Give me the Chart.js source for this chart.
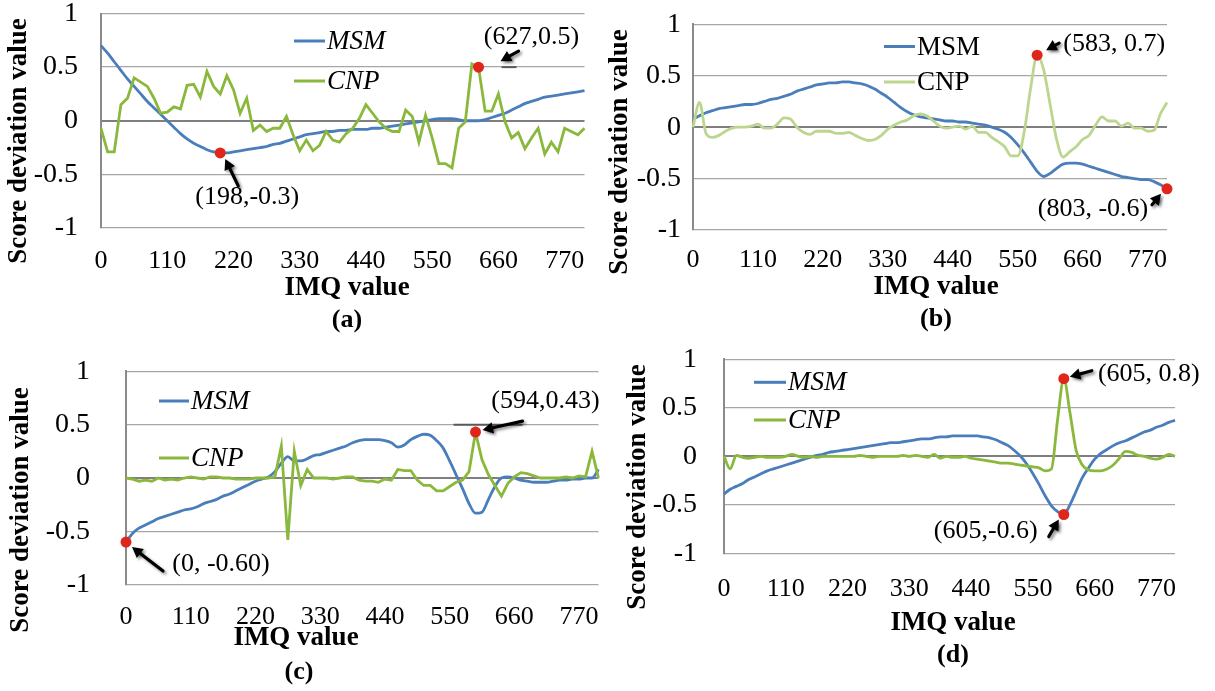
<!DOCTYPE html>
<html>
<head>
<meta charset="utf-8">
<title>Score deviation vs IMQ value</title>
<script src="https://cdn.jsdelivr.net/npm/chart.js@4.4.1/dist/chart.umd.min.js"></script>
<style>
  body { margin: 0; background: #fff; }
  #fig { position: relative; width: 1215px; height: 691px; overflow: hidden; background: #fff; }
  #fig canvas { position: absolute; }
</style>
</head>
<body>
<div id="fig"></div>
<script>
// IMQ categories (step 11)
const imq = [0, 11, 22, 33, 44, 55, 66, 77, 88, 99,
  110, 121, 132, 143, 154, 165, 176, 187, 198, 209,
  220, 231, 242, 253, 264, 275, 286, 297, 308, 319,
  330, 341, 352, 363, 374, 385, 396, 407, 418, 429,
  440, 451, 462, 473, 484, 495, 506, 517, 528, 539,
  550, 561, 572, 583, 594, 605, 616, 627, 638, 649,
  660, 671, 682, 693, 704, 715, 726, 737, 748, 759,
  770, 781, 792, 803];

// (a)
const msmA = [0.70, 0.63, 0.55, 0.47, 0.39, 0.32, 0.25, 0.18, 0.12, 0.06,
  0.00, -0.06, -0.12, -0.17, -0.21, -0.24, -0.27, -0.29, -0.30, -0.30,
  -0.29, -0.28, -0.27, -0.26, -0.25, -0.24, -0.22, -0.21, -0.19, -0.17,
  -0.15, -0.13, -0.12, -0.11, -0.10, -0.10, -0.09, -0.09, -0.08, -0.08,
  -0.08, -0.07, -0.07, -0.06, -0.05, -0.04, -0.03, -0.02, -0.01, 0.00,
  0.01, 0.02, 0.02, 0.02, 0.01, 0.00, 0.00, 0.00, 0.01, 0.03,
  0.05, 0.07, 0.10, 0.13, 0.16, 0.18, 0.20, 0.22, 0.23, 0.24,
  0.25, 0.26, 0.27, 0.28];
const cnpA = [-0.07, -0.29, -0.29, 0.15, 0.21, 0.40, 0.36, 0.32, 0.21, 0.07,
  0.08, 0.13, 0.11, 0.33, 0.34, 0.22, 0.46, 0.32, 0.25, 0.42,
  0.29, 0.07, 0.21, -0.09, -0.04, -0.10, -0.07, -0.07, 0.04, -0.13,
  -0.28, -0.18, -0.28, -0.23, -0.10, -0.18, -0.20, -0.12, -0.07, 0.02,
  0.15, 0.07, -0.01, -0.07, -0.10, -0.10, 0.10, 0.04, -0.20, 0.05,
  -0.16, -0.40, -0.40, -0.44, -0.07, -0.01, 0.53, 0.50, 0.09, 0.09,
  0.25, -0.01, -0.16, -0.11, -0.26, -0.16, -0.07, -0.31, -0.20, -0.29,
  -0.07, -0.10, -0.13, -0.07];

// (b)
const msmB = [0.08, 0.11, 0.14, 0.16, 0.18, 0.19, 0.20, 0.21, 0.22, 0.22,
  0.23, 0.25, 0.27, 0.28, 0.30, 0.32, 0.35, 0.37, 0.39, 0.41,
  0.42, 0.43, 0.43, 0.44, 0.44, 0.43, 0.42, 0.40, 0.37, 0.33,
  0.29, 0.24, 0.19, 0.15, 0.12, 0.10, 0.09, 0.08, 0.07, 0.06,
  0.06, 0.05, 0.05, 0.04, 0.03, 0.02, 0.00, -0.02, -0.05, -0.10,
  -0.17, -0.25, -0.34, -0.43, -0.48, -0.45, -0.40, -0.36, -0.35, -0.35,
  -0.36, -0.38, -0.40, -0.42, -0.44, -0.46, -0.48, -0.49, -0.50, -0.51,
  -0.51, -0.53, -0.56, -0.60];
const cnpB = [0.00, 0.24, -0.06, -0.10, -0.08, -0.04, -0.01, 0.00, 0.00, 0.01,
  0.03, -0.01, -0.01, 0.03, 0.09, 0.08, 0.00, -0.05, -0.07, -0.04,
  -0.04, -0.04, -0.06, -0.06, -0.05, -0.08, -0.11, -0.13, -0.12, -0.08,
  -0.02, 0.02, 0.05, 0.07, 0.11, 0.13, 0.11, 0.06, 0.01, -0.01,
  0.00, 0.01, -0.02, 0.01, -0.05, -0.05, -0.10, -0.14, -0.19, -0.28,
  -0.28, -0.05, 0.38, 0.70, 0.56, 0.22, -0.12, -0.29, -0.24, -0.19,
  -0.12, -0.08, 0.02, 0.10, 0.06, 0.06, 0.01, 0.04, -0.01, -0.01,
  -0.04, -0.03, 0.13, 0.24];

// (c)
const msmC = [-0.60, -0.52, -0.47, -0.44, -0.41, -0.38, -0.36, -0.34, -0.32, -0.30,
  -0.29, -0.27, -0.24, -0.22, -0.20, -0.17, -0.15, -0.12, -0.09, -0.06,
  -0.03, -0.01, 0.01, 0.06, 0.14, 0.20, 0.16, 0.16, 0.18, 0.21,
  0.22, 0.24, 0.26, 0.28, 0.30, 0.33, 0.35, 0.36, 0.36, 0.36,
  0.35, 0.33, 0.29, 0.31, 0.36, 0.39, 0.41, 0.40, 0.35, 0.28,
  0.16, 0.03, -0.10, -0.24, -0.33, -0.32, -0.20, -0.08, 0.00, 0.01,
  0.00, -0.02, -0.03, -0.04, -0.04, -0.04, -0.03, -0.02, -0.02, -0.01,
  -0.01, 0.00, 0.00, 0.08];
const cnpC = [0.00, -0.01, -0.03, -0.02, -0.03, 0.00, -0.02, -0.01, -0.02, 0.00,
  0.01, 0.00, -0.01, 0.01, 0.01, 0.00, 0.00, -0.01, -0.01, -0.01,
  0.00, 0.00, 0.00, 0.01, 0.30, -0.58, 0.25, -0.07, 0.08, 0.00,
  0.00, 0.00, -0.01, 0.00, 0.01, 0.01, -0.02, -0.03, -0.03, -0.04,
  -0.01, -0.02, 0.08, 0.07, 0.07, -0.02, -0.07, -0.07, -0.12, -0.12,
  -0.08, -0.04, -0.02, 0.06, 0.43, 0.17, 0.03, -0.07, -0.17, -0.05,
  0.01, 0.05, 0.04, 0.02, 0.00, 0.00, 0.00, 0.00, 0.01, 0.00,
  0.02, 0.01, 0.25, 0.00];

// (d)
const msmD = [-0.39, -0.34, -0.31, -0.28, -0.24, -0.21, -0.18, -0.15, -0.13, -0.11,
  -0.09, -0.07, -0.05, -0.03, -0.01, 0.01, 0.02, 0.04, 0.05, 0.06,
  0.07, 0.08, 0.09, 0.10, 0.11, 0.12, 0.13, 0.14, 0.14, 0.15,
  0.16, 0.17, 0.18, 0.18, 0.19, 0.20, 0.20, 0.21, 0.21, 0.21,
  0.21, 0.21, 0.20, 0.19, 0.17, 0.14, 0.11, 0.06, 0.00, -0.08,
  -0.18, -0.29, -0.41, -0.51, -0.57, -0.60, -0.50, -0.36, -0.22, -0.12,
  -0.03, 0.03, 0.07, 0.11, 0.14, 0.16, 0.19, 0.22, 0.25, 0.27,
  0.30, 0.32, 0.35, 0.37];
const cnpD = [0.00, -0.13, 0.01, -0.01, -0.02, -0.01, 0.00, -0.01, -0.01, -0.01,
  0.00, 0.02, 0.00, -0.01, 0.00, -0.01, 0.00, 0.00, 0.00, 0.00,
  0.00, 0.00, 0.01, 0.00, -0.01, 0.00, 0.00, 0.00, 0.00, 0.01,
  0.00, 0.01, 0.00, -0.01, 0.02, -0.02, 0.00, -0.01, -0.01, 0.00,
  -0.02, -0.03, -0.04, -0.05, -0.06, -0.07, -0.07, -0.08, -0.09, -0.10,
  -0.11, -0.12, -0.15, -0.13, 0.38, 0.80, 0.45, 0.06, -0.09, -0.14,
  -0.15, -0.15, -0.13, -0.09, -0.02, 0.05, 0.04, 0.01, 0.00, -0.02,
  -0.03, -0.01, 0.02, 0.00];

// highlighted points
const calloutsA = [{ x: 198, y: -0.3 }, { x: 627, y: 0.5 }];
const calloutsB = [{ x: 583, y: 0.7 }, { x: 803, y: -0.6 }];
const calloutsC = [{ x: 0, y: -0.60 }, { x: 594, y: 0.43 }];
const calloutsD = [{ x: 605, y: 0.8 }, { x: 605, y: -0.6 }];

const BLUE = '#4a7ebb', GREEN = '#8ab83c', PALE_GREEN = '#bcd68f', RED = '#e0261b';
const SERIF = '"Liberation Serif", "Times New Roman", serif';

const panels = [
  { id: 'chartA', left: 0, top: 0, w: 600, h: 340,
    area: { l: 101, r: 584.5, t: 13.5, b: 228 }, xPad: 12, yPad: 23,
    msm: msmA, cnp: cnpA, callouts: calloutsA, cnpColor: GREEN, cnpSmooth: false, italic: true,
    legend: { x0: 294, x1: 325, rows: [41, 81] },
    yTitle: [19, 141], xTitle: [347, 288], caption: [347, 320, '(a)'],
    notes: [
      { tip: [5, 6], tail: [18, 33], text: [27, 44], sep: ',', dp: 1 },
      { tip: [22, -6], tail: [40, -16], text: [53, -30], sep: ',', dp: 1, rule: [23, 38, 0.5] }
    ] },
  { id: 'chartB', left: 600, top: 0, w: 615, h: 340,
    area: { l: 93, r: 567, t: 24.3, b: 230 }, xPad: 9, yPad: 12,
    msm: msmB, cnp: cnpB, callouts: calloutsB, cnpColor: PALE_GREEN, cnpSmooth: true, italic: false,
    legend: { x0: 284, x1: 315, rows: [46.5, 82] },
    yTitle: [20, 152], xTitle: [336, 287], caption: [336, 319, '(b)'],
    notes: [
      { tip: [9, -5], tail: [22, -12], text: [77, -11], sep: ', ', dp: 1 },
      { tip: [-6, 5], tail: [-15, 16], text: [-74, 20], sep: ', ', dp: 1 }
    ] },
  { id: 'chartC', left: 0, top: 340, w: 604, h: 351,
    area: { l: 126, r: 601, t: 31.3, b: 244.7 }, xPad: 11, yPad: 36,
    msm: msmC, cnp: cnpC, callouts: calloutsC, cnpColor: GREEN, cnpSmooth: false, italic: true,
    legend: { x0: 159, x1: 189, rows: [61, 118] },
    yTitle: [21, 170], xTitle: [296, 298], caption: [299, 332, '(c)'],
    notes: [
      { tip: [6, 5], tail: [37, 29], text: [95, 22], sep: ', ', dp: 2 },
      { tip: [7, -2], tail: [47, -11], text: [70, -31], sep: ',', dp: 2, rule: [-22, 47, 0.5] }
    ] },
  { id: 'chartD', left: 604, top: 340, w: 611, h: 351,
    area: { l: 120, r: 571, t: 19.3, b: 213.3 }, xPad: 15, yPad: 27,
    msm: msmD, cnp: cnpD, callouts: calloutsD, cnpColor: GREEN, cnpSmooth: true, italic: true,
    legend: { x0: 150, x1: 182, rows: [42.3, 80] },
    yTitle: [34, 147], xTitle: [349, 283], caption: [349, 315, '(d)'],
    notes: [
      { tip: [6, -2], tail: [28, -8], text: [85, -5], sep: ', ', dp: 1 },
      { tip: [-5, 5], tail: [-15, 22], text: [-78, 17], sep: ',', dp: 1 }
    ] }
];
const byId = {};
panels.forEach(p => { byId[p.id] = p; });

function drawArrow(ctx, x0, y0, x1, y1) {
  const a = Math.atan2(y1 - y0, x1 - x0), h = 12;
  ctx.save();
  ctx.shadowColor = 'rgba(0,0,0,0.45)';
  ctx.shadowBlur = 3;
  ctx.shadowOffsetX = 2;
  ctx.shadowOffsetY = 2;
  ctx.strokeStyle = '#000';
  ctx.fillStyle = '#000';
  ctx.lineWidth = 3.2;
  ctx.lineCap = 'round';
  ctx.beginPath();
  ctx.moveTo(x0, y0);
  ctx.lineTo(x1 - 6 * Math.cos(a), y1 - 6 * Math.sin(a));
  ctx.stroke();
  ctx.beginPath();
  ctx.moveTo(x1, y1);
  ctx.lineTo(x1 - h * Math.cos(a - 0.5), y1 - h * Math.sin(a - 0.5));
  ctx.lineTo(x1 - h * Math.cos(a + 0.5), y1 - h * Math.sin(a + 0.5));
  ctx.closePath();
  ctx.fill();
  ctx.restore();
}

const figurePlugin = {
  id: 'figure',
  afterDatasetsDraw(chart) {
    const p = byId[chart.canvas.id];
    const ctx = chart.ctx, xs = chart.scales.x, ys = chart.scales.y;
    p.callouts.forEach((c, i) => {
      const n = p.notes[i];
      const px = xs.getPixelForValue(imq.indexOf(c.x));
      const py = ys.getPixelForValue(c.y);
      if (n.rule) {
        // darker stub on the gridline next to the label
        const gy = ys.getPixelForValue(n.rule[2]);
        ctx.save();
        ctx.strokeStyle = '#5a5a5a';
        ctx.lineWidth = 2;
        ctx.beginPath();
        ctx.moveTo(px + n.rule[0], gy);
        ctx.lineTo(px + n.rule[1], gy);
        ctx.stroke();
        ctx.restore();
      }
      drawArrow(ctx, px + n.tail[0], py + n.tail[1], px + n.tip[0], py + n.tip[1]);
      ctx.save();
      ctx.font = '26px ' + SERIF;
      ctx.fillStyle = '#000';
      ctx.textAlign = 'center';
      ctx.textBaseline = 'middle';
      ctx.fillText('(' + c.x + n.sep + c.y.toFixed(n.dp) + ')', px + n.text[0], py + n.text[1]);
      ctx.restore();
    });
  },
  afterDraw(chart) {
    const p = byId[chart.canvas.id];
    const ctx = chart.ctx;
    ctx.save();
    // legend: MSM then CNP
    const rows = [['MSM', BLUE], ['CNP', p.cnpColor]];
    rows.forEach(([name, color], i) => {
      const y = p.legend.rows[i];
      ctx.strokeStyle = color;
      ctx.lineWidth = 3;
      ctx.beginPath();
      ctx.moveTo(p.legend.x0, y);
      ctx.lineTo(p.legend.x1, y);
      ctx.stroke();
      ctx.font = (p.italic ? 'italic ' : '') + '27px ' + SERIF;
      ctx.fillStyle = '#000';
      ctx.textAlign = 'left';
      ctx.textBaseline = 'middle';
      ctx.fillText(name, p.legend.x1 + 2, y + 1);
    });
    // axis titles and panel caption
    ctx.fillStyle = '#000';
    ctx.textAlign = 'center';
    ctx.textBaseline = 'middle';
    ctx.font = 'bold 27px ' + SERIF;
    ctx.fillText('IMQ value', p.xTitle[0], p.xTitle[1]);
    ctx.font = 'bold 26px ' + SERIF;
    ctx.fillText(p.caption[2], p.caption[0], p.caption[1]);
    ctx.translate(p.yTitle[0], p.yTitle[1]);
    ctx.rotate(-Math.PI / 2);
    ctx.font = 'bold 27px ' + SERIF;
    ctx.fillText('Score deviation value', 0, 0);
    ctx.restore();
  }
};

const fig = document.getElementById('fig');
panels.forEach(p => {
  const cv = document.createElement('canvas');
  cv.id = p.id;
  cv.width = p.w;
  cv.height = p.h;
  cv.style.left = p.left + 'px';
  cv.style.top = p.top + 'px';
  cv.style.width = p.w + 'px';
  cv.style.height = p.h + 'px';
  fig.appendChild(cv);

  new Chart(cv, {
    type: 'line',
    data: {
      labels: imq,
      datasets: [
        { label: 'points', data: p.callouts.map(c => ({ x: c.x, y: c.y })), showLine: false,
          pointRadius: 5.5, pointBackgroundColor: RED, pointBorderWidth: 0, clip: false },
        { label: 'CNP', data: p.cnp, borderColor: p.cnpColor, borderWidth: 2.8, pointRadius: 0,
          tension: 0, cubicInterpolationMode: p.cnpSmooth ? 'monotone' : 'default' },
        { label: 'MSM', data: p.msm, borderColor: BLUE, borderWidth: 2.8, pointRadius: 0,
          cubicInterpolationMode: 'monotone' }
      ]
    },
    options: {
      responsive: false,
      animation: false,
      events: [],
      layout: { padding: { left: 0, top: p.area.t, right: p.w - p.area.r, bottom: 0 } },
      scales: {
        x: {
          type: 'category',
          offset: false,
          grid: { display: false },
          border: { display: false },
          // fixed axis height; tick padding must not push the plot edges in
          afterFit: s => { s.height = p.h - p.area.b; s.paddingLeft = 0; s.paddingRight = 0; },
          ticks: {
            autoSkip: false, maxRotation: 0, minRotation: 0, padding: p.xPad,
            color: '#000', font: { family: SERIF, size: 26, lineHeight: 1 },
            callback: (v, i) => (i % 10 === 0 ? String(imq[i]) : '')
          }
        },
        y: {
          min: -1, max: 1,
          afterFit: s => { s.width = p.area.l; s.paddingTop = 0; s.paddingBottom = 0; },
          grid: {
            drawTicks: false,
            color: c => (c.tick && c.tick.value === 0 ? '#7f7f7f' : '#a6a6a6'),
            lineWidth: c => (c.tick && c.tick.value === 0 ? 2 : 1.3)
          },
          border: { display: true, color: '#8a8a8a', width: 2 },
          ticks: {
            stepSize: 0.5, padding: p.yPad, color: '#000',
            font: { family: SERIF, size: 28, lineHeight: 1 },
            callback: v => String(v)
          }
        }
      },
      plugins: { legend: { display: false }, tooltip: { enabled: false } }
    },
    plugins: [figurePlugin]
  });
});
</script>
</body>
</html>
